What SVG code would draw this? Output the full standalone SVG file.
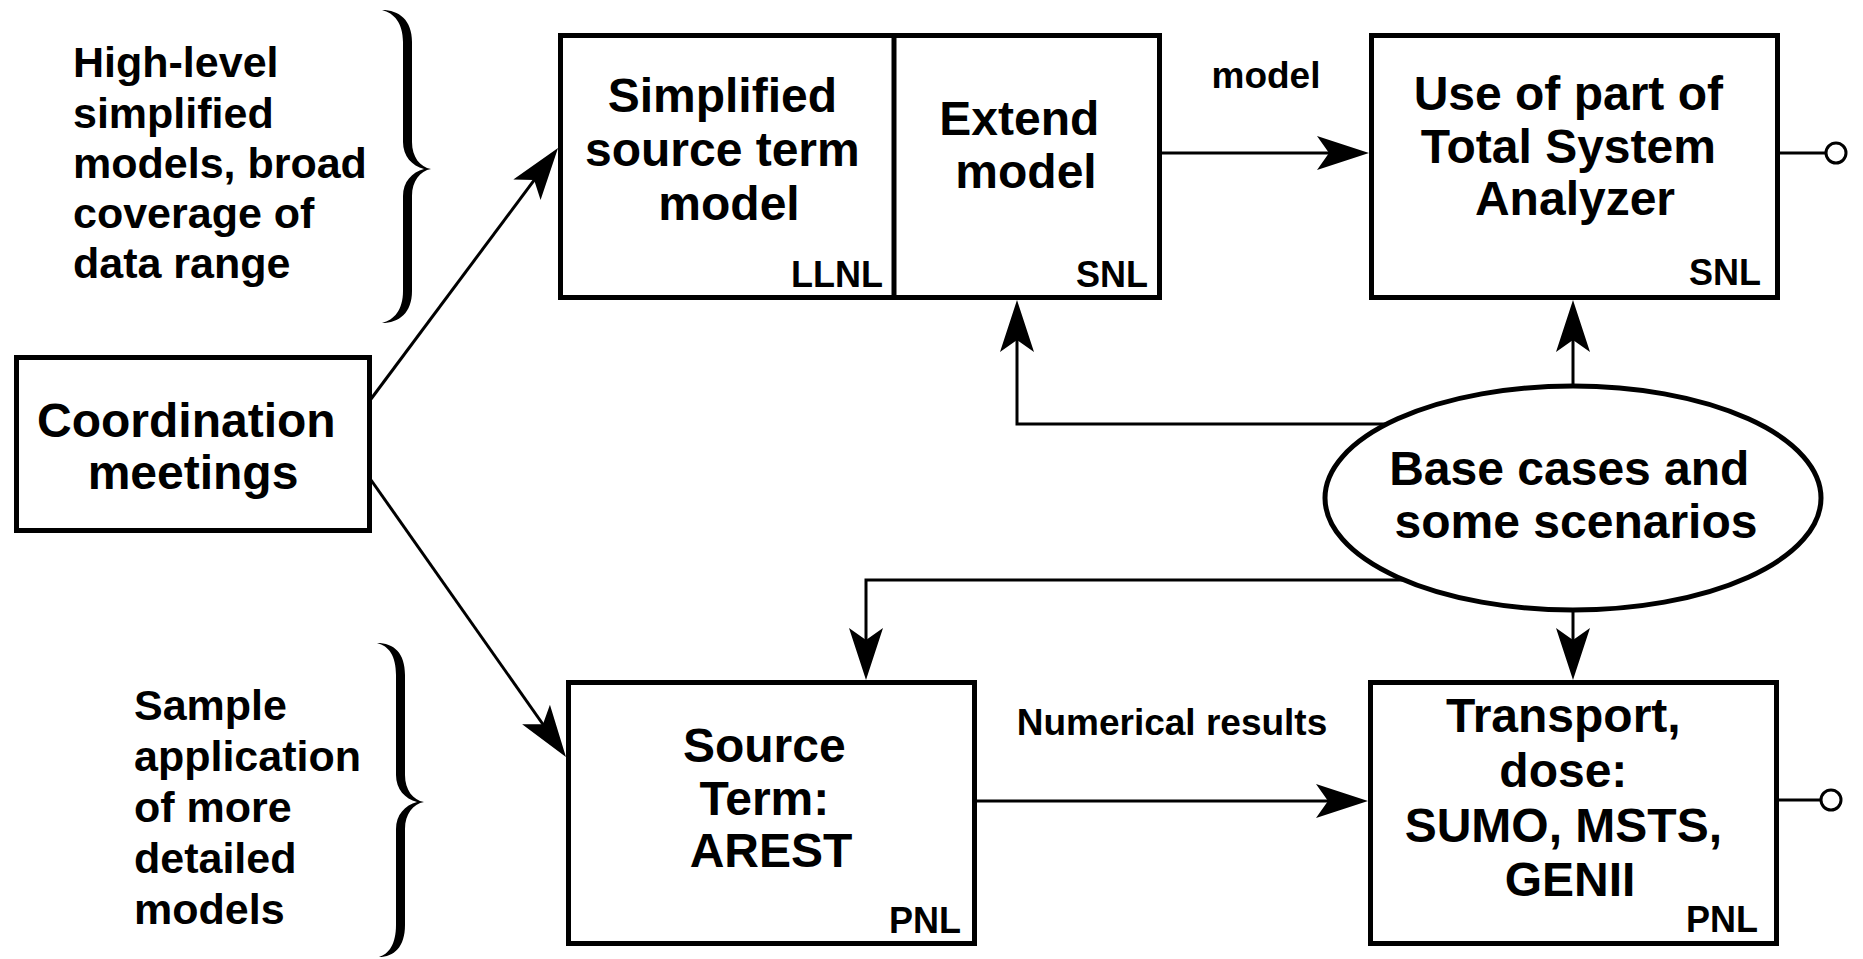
<svg xmlns="http://www.w3.org/2000/svg" width="1863" height="959" viewBox="0 0 1863 959">
  <style>
    .box { fill: #fff; stroke: #000; stroke-width: 5; }
    .div { stroke: #000; stroke-width: 5; fill: none; }
    .wire { fill: none; stroke: #000; stroke-width: 3; }
    .t { font-family: "Liberation Sans", Arial, Helvetica, sans-serif; font-weight: bold; fill: #000; }
    .big { font-size: 48px; text-anchor: middle; }
    .side { font-size: 43px; }
    .org { font-size: 36px; text-anchor: end; }
    .lbl { font-size: 37px; text-anchor: middle; }
    .brace { fill: #000; stroke: none; }
    .port { fill: #fff; stroke: #000; stroke-width: 3; }
  </style>
  <defs>
    <marker id="arrow" markerUnits="userSpaceOnUse" viewBox="0 0 52 34" markerWidth="52" markerHeight="34" refX="22" refY="17" orient="auto" overflow="visible">
      <path d="M0,0 L52,17 L0,34 L12,17 Z" fill="#000"/>
    </marker>
  </defs>
  <rect width="1863" height="959" fill="#fff"/>

  <!-- side annotations with braces -->
  <g id="note-high-level">
    <text class="t side">
      <tspan x="73" y="77">High-level</tspan>
      <tspan x="73" y="128">simplified</tspan>
      <tspan x="73" y="178">models, broad</tspan>
      <tspan x="73" y="228">coverage of</tspan>
      <tspan x="73" y="278">data range</tspan>
    </text>
    <path class="brace" d="M382,10 C399,10 412,20 412,42 L412,142 C412,157 420,167 431,169 C420,171 412,181 412,196 L412,291 C412,313 399,323 382,323 C394,320 403,310 403,291 L403,196 C403,182 412,172 424,169 C412,166 403,156 403,142 L403,42 C403,23 394,13 382,10 Z"/>
  </g>
  <g id="note-sample">
    <text class="t side">
      <tspan x="134" y="720">Sample</tspan>
      <tspan x="134" y="771">application</tspan>
      <tspan x="134" y="822">of more</tspan>
      <tspan x="134" y="873">detailed</tspan>
      <tspan x="134" y="924">models</tspan>
    </text>
    <path class="brace" d="M377,643 C394,643 405,653 405,675 L405,775 C405,790 413,800 424,802 C413,804 405,814 405,829 L405,925 C405,947 394,957 379,957 C389,954 396,944 396,925 L396,829 C396,815 405,805 417,802 C405,799 396,789 396,775 L396,675 C396,656 389,646 377,643 Z"/>
  </g>

  <!-- connectors -->
  <g id="connectors">
    <path class="wire" d="M371,399 L540.1,172.1" marker-end="url(#arrow)"/>
    <path class="wire" d="M371,480 L548.7,732.5" marker-end="url(#arrow)"/>
    <path class="wire" d="M1162,153 L1339,153" marker-end="url(#arrow)"/>
    <path class="wire" d="M977,801 L1338,801" marker-end="url(#arrow)"/>
    <path class="wire" d="M1573,390 L1573,330" marker-end="url(#arrow)"/>
    <path class="wire" d="M1573,606 L1573,650" marker-end="url(#arrow)"/>
    <path class="wire" d="M1395,424 L1017,424 L1017,330" marker-end="url(#arrow)"/>
    <path class="wire" d="M1405,580 L866,580 L866,650" marker-end="url(#arrow)"/>
    <path class="wire" d="M1780,153 L1826,153"/>
    <path class="wire" d="M1779,800 L1821,800"/>
    <circle class="port" cx="1836" cy="153" r="10"/>
    <circle class="port" cx="1831" cy="800" r="10"/>
  </g>

  <!-- nodes -->
  <g id="coordination">
    <rect class="box" x="16.5" y="357.5" width="353" height="173"/>
    <text class="t big">
      <tspan x="193" y="437">Coordination</tspan>
      <tspan x="193" y="489">meetings</tspan>
    </text>
  </g>

  <g id="simplified-source-term">
    <rect class="box" x="560.5" y="35.5" width="599" height="262"/>
    <line class="div" x1="894" y1="35.5" x2="894" y2="297.5"/>
    <text class="t big">
      <tspan x="729" y="112">Simplified</tspan>
      <tspan x="729" y="166">source term</tspan>
      <tspan x="729" y="220">model</tspan>
    </text>
    <text class="t org" x="883" y="287">LLNL</text>
  </g>

  <g id="extend-model">
    <text class="t big">
      <tspan x="1026" y="135">Extend</tspan>
      <tspan x="1026" y="188">model</tspan>
    </text>
    <text class="t org" x="1148" y="287">SNL</text>
  </g>

  <g id="total-system-analyzer">
    <rect class="box" x="1371.5" y="35.5" width="406" height="262"/>
    <text class="t big">
      <tspan x="1575" y="110">Use of part of</tspan>
      <tspan x="1575" y="163">Total System</tspan>
      <tspan x="1575" y="215">Analyzer</tspan>
    </text>
    <text class="t org" x="1761" y="285">SNL</text>
  </g>

  <g id="base-cases">
    <ellipse class="box" cx="1573" cy="498" rx="248" ry="112"/>
    <text class="t big">
      <tspan x="1576" y="485">Base cases and</tspan>
      <tspan x="1576" y="538">some scenarios</tspan>
    </text>
  </g>

  <g id="arest">
    <rect class="box" x="568.5" y="682.5" width="406" height="261"/>
    <text class="t big">
      <tspan x="771" y="762">Source</tspan>
      <tspan x="771" y="815">Term:</tspan>
      <tspan x="771" y="867">AREST</tspan>
    </text>
    <text class="t org" x="961" y="933">PNL</text>
  </g>

  <g id="transport-dose">
    <rect class="box" x="1370.5" y="682.5" width="406" height="261"/>
    <text class="t big">
      <tspan x="1570" y="732">Transport,</tspan>
      <tspan x="1570" y="787">dose:</tspan>
      <tspan x="1570" y="842">SUMO, MSTS,</tspan>
      <tspan x="1570" y="896">GENII</tspan>
    </text>
    <text class="t org" x="1758" y="932">PNL</text>
  </g>

  <!-- connector labels -->
  <g id="labels">
    <text class="t lbl" x="1266" y="88">model</text>
    <text class="t lbl" x="1172" y="735">Numerical results</text>
  </g>
</svg>
